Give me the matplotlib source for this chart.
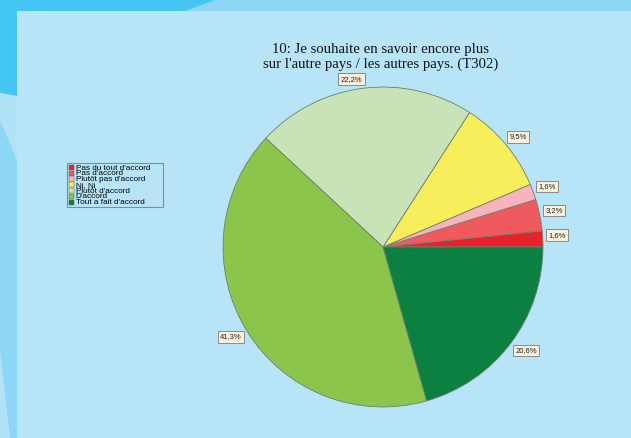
import numpy as np
import matplotlib.pyplot as plt
from matplotlib.patches import Polygon, Rectangle

categories = ["Pas du tout d'accord", "Pas d'accord", "Plutôt pas d'accord",
              "Ni, Ni", "Plutôt d'accord", "D'accord", "Tout a fait d'accord"]
values = [1.6, 3.2, 1.6, 9.5, 22.2, 41.3, 20.6]
colors = ['#e8222b', '#ee5a5e', '#f7b4bd', '#f7ee5c', '#c9e3b9', '#8bc54b', '#0c8040']
title = "10: Je souhaite en savoir encore plus\nsur l'autre pays / les autres pays. (T302)"

W, H = 631, 438
fig = plt.figure(figsize=(W / 100, H / 100), dpi=100)
fig.patch.set_facecolor('#8dd6f5')

# decorative background in pixel coords
bg = fig.add_axes([0, 0, 1, 1], zorder=-1)
bg.set_xlim(0, W)
bg.set_ylim(H, 0)
bg.axis('off')
bg.add_patch(Polygon([(0, 0), (215, 0), (185, 11), (17, 11), (17, 96), (0, 93)],
                     closed=True, facecolor='#44c6f2', edgecolor='none'))
bg.add_patch(Polygon([(0, 93), (17, 96), (17, 160), (0, 120)],
                     closed=True, facecolor='#b2e2f7', edgecolor='none'))
bg.add_patch(Rectangle((17, 11), W - 17, H - 11, facecolor='#b8e4f8', edgecolor='none'))
bg.add_patch(Polygon([(0, 350), (10, 438), (0, 438)],
                     closed=True, facecolor='#b2e2f7', edgecolor='none'))

fig.text(0.603, 1 - 57 / H, title, ha='center', va='center',
         fontsize=10.6, family='Liberation Serif', color='#111111', linespacing=1.15)

ax = fig.add_axes([0.3535, 0.0708, 0.507, 0.7306])
wedges, texts = ax.pie(
    values, colors=colors, startangle=0, counterclock=True,
    wedgeprops=dict(edgecolor='#6f7f6f', linewidth=0.6))
ax.set_xlim(-1, 1)
ax.set_ylim(-1, 1)
ax.set_aspect('equal')

# value labels: box corner touching the rim at the wedge's mid angle
for w, v in zip(wedges, values):
    mid = np.deg2rad((w.theta1 + w.theta2) / 2)
    cx, cy = np.cos(mid), np.sin(mid)
    ax.text(1.035 * cx, 1.035 * cy, f"{v:.1f}%".replace('.', ','),
            ha='left' if cx >= 0 else 'right', va='bottom' if cy >= 0 else 'top',
            fontsize=5.5, family='Liberation Sans', color='#222222',
            bbox=dict(boxstyle='square,pad=0.3', facecolor='#fbf0dc',
                      edgecolor='#8a8a8a', linewidth=0.7))

# compact legend drawn by hand (rows are tighter than fig.legend allows)
row_h = 5.8
lx0, ly0 = 67, 163
lw = 96
lh = 3 + row_h * len(categories)
lg = fig.add_axes([lx0 / W, 1 - (ly0 + lh) / H, lw / W, lh / H])
lg.set_xlim(0, lw)
lg.set_ylim(lh, 0)
lg.axis('off')
lg.add_patch(Rectangle((0, 0), lw, lh, facecolor='#b8e4f8',
                       edgecolor='#8a8a8a', linewidth=0.8, clip_on=False))
for i, (lab, col) in enumerate(zip(categories, colors)):
    yc = 1.5 + row_h * (i + 0.5)
    lg.add_patch(Rectangle((2, yc - 2.6), 5.2, 5.2, facecolor=col,
                           edgecolor='#555555', linewidth=0.3, clip_on=False))
    lg.text(8.5, yc + 2.1, lab, ha='left', va='baseline', fontsize=5.9,
            family='Liberation Sans', color='#000000', clip_on=False)

fig.savefig('out.png', dpi=100, facecolor=fig.get_facecolor())
